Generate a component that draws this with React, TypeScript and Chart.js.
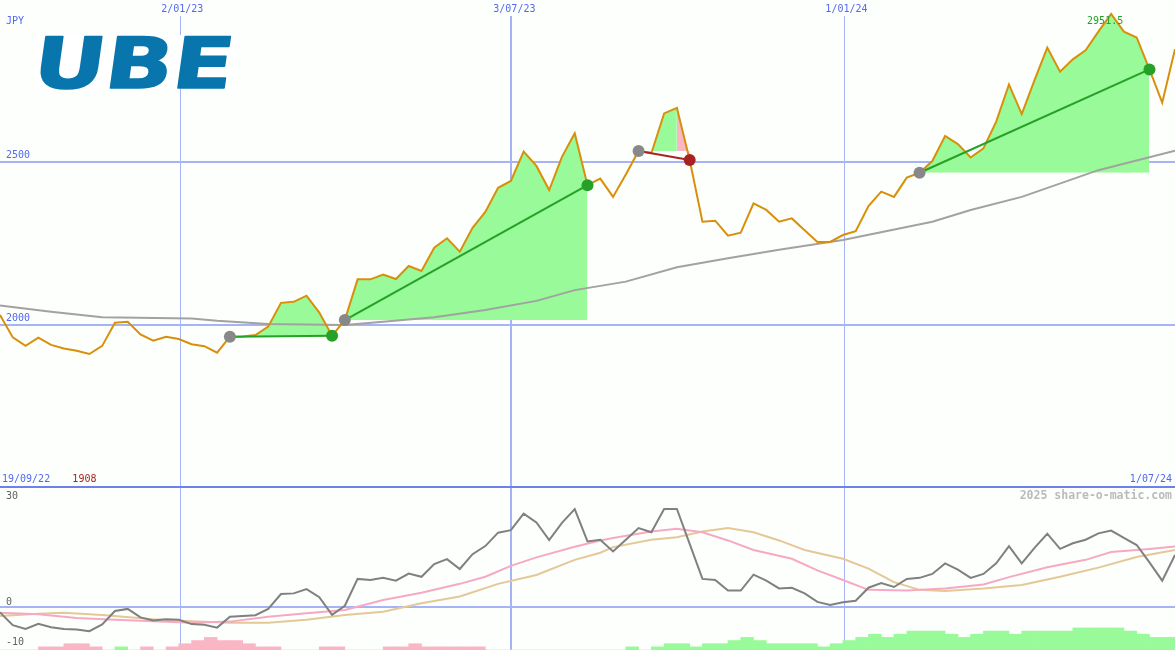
import React, { useEffect, useRef } from 'react';
import { Chart, registerables } from 'chart.js';

Chart.register(...registerables);

// ---------- data ----------
const WEEK_MIN = 0;
const WEEK_MAX = 92;
const xTickWeeks = [14, 40, 66];
const xTickLabels = ['2/01/23', '3/07/23', '1/01/24'];
const startLabel = '19/09/22';
const endLabel = '1/07/24';
const currencyLabel = 'JPY';
const priceGrid = [2500, 2000];
const panelSplitPrice = 1500;
const oscTicks = [30, 0, -10];
const logoText = 'UBE';
const creditText = '2025 share-o-matic.com';

// weekly closes (index = week from chart start)
const price = [
  2028, 1959, 1933, 1958, 1936, 1925, 1918, 1908, 1933, 2004,
  2007, 1968, 1949, 1961, 1954, 1938, 1932, 1912, 1961, 1962,
  1966, 1992, 2065, 2068, 2087, 2035, 1964, 2012, 2137, 2137,
  2152, 2138, 2178, 2163, 2234, 2263, 2222, 2295, 2344, 2418,
  2439, 2529, 2485, 2411, 2513, 2585, 2426, 2446, 2390, 2459,
  2531, 2524, 2646, 2663, 2503, 2314, 2317, 2271, 2280, 2370,
  2350, 2314, 2324, 2288, 2252, 2252, 2273, 2285, 2362, 2406,
  2390, 2449, 2464, 2500, 2577, 2552, 2511, 2539, 2621, 2735,
  2644, 2748, 2848, 2774, 2812, 2840, 2897, 2951.5, 2897, 2879,
  2781, 2679, 2843,
];

// long moving average (week, value)
const maWeeks = [0, 4, 8, 15, 17, 21, 27, 30, 34, 38, 42, 45, 49, 53, 57, 61, 66, 73, 76, 80, 86, 92];
const maValues = [2057, 2038, 2021, 2017, 2010, 2000, 1997, 2007, 2021, 2043, 2071, 2104, 2130, 2174, 2202, 2228, 2258, 2314, 2350, 2390, 2472, 2532];

// trades (week indexes)
const tradeEntry = [18, 27, 50, 72];
const tradeExit = [26, 46, 54, 90];
const tradeFadeFrom = [null, null, 53, null];

// lower panel oscillator
const osc = [
  -1.4, -5.0, -6.1, -4.6, -5.6, -6.1, -6.2, -6.7, -4.8, -1.0,
  -0.4, -2.8, -3.7, -3.3, -3.5, -4.7, -4.9, -5.7, -2.6, -2.4,
  -2.2, -0.4, 3.8, 4.0, 5.2, 2.9, -2.1, 0.5, 8.1, 7.8,
  8.4, 7.6, 9.6, 8.7, 12.3, 13.7, 10.9, 15.1, 17.4, 21.2,
  21.9, 26.6, 24.1, 19.1, 24.0, 27.9, 18.7, 19.2, 15.9, 19.2,
  22.5, 21.3, 27.9, 27.9, 18.0, 8.1, 7.8, 4.8, 4.8, 9.3,
  7.6, 5.4, 5.6, 4.0, 1.6, 0.7, 1.5, 1.9, 5.6, 6.9,
  5.8, 8.1, 8.4, 9.5, 12.5, 10.7, 8.4, 9.5, 12.5, 17.4,
  12.5, 16.9, 20.9, 16.6, 18.2, 19.2, 21.0, 21.8, 19.7, 17.7,
  12.8, 7.6, 14.9,
];
const fastWeeks = [0, 3, 6, 9, 12, 15, 18, 21, 24, 27, 30, 33, 36, 38, 40, 42, 45, 47, 48, 51, 53, 55, 57, 59, 62, 64, 66, 68, 71, 74, 77, 79, 82, 85, 87, 90, 92];
const fastValues = [-1.5, -1.9, -3.0, -3.5, -3.9, -4.3, -4.0, -2.6, -1.6, -0.7, 2.1, 4.2, 6.7, 8.7, 11.8, 14.2, 17.2, 19.0, 19.7, 21.5, 22.3, 21.3, 19.0, 16.3, 13.8, 10.5, 7.8, 5.0, 4.8, 5.4, 6.5, 8.6, 11.4, 13.5, 15.7, 16.6, 17.3];
const slowWeeks = [0, 3, 5, 8, 12, 15, 18, 21, 24, 27, 30, 33, 36, 39, 42, 45, 47, 48, 51, 53, 55, 57, 59, 61, 63, 66, 68, 70, 72, 74, 77, 80, 83, 86, 89, 92];
const slowValues = [-2.4, -1.8, -1.5, -2.1, -3.3, -3.9, -4.3, -4.3, -3.5, -2.1, -1.2, 1.2, 3.1, 6.7, 9.2, 13.5, 15.5, 17.1, 19.2, 19.9, 21.5, 22.5, 21.3, 19.0, 16.3, 13.8, 11.0, 7.2, 5.0, 4.7, 5.4, 6.4, 8.7, 11.3, 14.3, 16.3];

// bottom histogram (negative = pink, positive = green), one per week
const signal = [
  0, 0, 0, -1, -1, -2, -2, -1, 0, 1,
  0, -1, 0, -1, -2, -3, -4, -3, -3, -2,
  -1, -1, 0, 0, 0, -1, -1, 0, 0, 0,
  -1, -1, -2, -1, -1, -1, -1, -1, 0, 0,
  0, 0, 0, 0, 0, 0, 0, 0, 0, 1,
  0, 1, 2, 2, 1, 2, 2, 3, 4, 3,
  2, 2, 2, 2, 1, 2, 3, 4, 5, 4,
  5, 6, 6, 6, 5, 4, 5, 6, 6, 5,
  6, 6, 6, 6, 7, 7, 7, 7, 6, 5,
  4, 4,
];

// ---------- styles ----------
const W = 1175;
const H = 650;
const BG = '#fcfffc';
const BLUE_TEXT = '#5468f0';
const GRID = '#a6b4f6';
const SEP = '#6e80ea';
const PRICE_COLOR = '#d98f0a';
const MA_COLOR = '#a2a2a2';
const GREEN_FILL = '#98fa98';
const PINK_FILL = '#fbb6c6';
const WIN = '#26a026';
const LOSS = '#a82222';
const ENTRY = '#888888';
const OSC_COLOR = '#808080';
const FAST_COLOR = '#f7a9c4';
const SLOW_COLOR = '#e4c898';
const LOGO_COLOR = '#0876ad';
const MONO = "'DejaVu Sans Mono'";

export default function App() {
  const ref = useRef<HTMLCanvasElement>(null);

  useEffect(() => {
    const canvas = ref.current;
    if (!canvas) return;

    const pairs = (xs: number[], ys: number[]) => xs.map((x, i) => ({ x, y: ys[i] }));
    const datasets: any[] = [];

    // trade fills
    const clear = 'rgba(0,0,0,0)';
    tradeEntry.forEach((e, k) => {
      const ex = tradeExit[k];
      const lvl = price[e];
      const mk = (a: number, b: number, above: string, below: string) => {
        datasets.push({
          type: 'line',
          data: price.slice(a, b + 1).map((y, i) => ({ x: a + i, y })),
          xAxisID: 'x',
          yAxisID: 'yp',
          borderWidth: 0,
          borderColor: clear,
          pointRadius: 0,
          fill: { target: { value: lvl }, above, below },
          order: 10,
        });
      };
      const split = tradeFadeFrom[k];
      if (split == null) mk(e, ex, GREEN_FILL, clear);
      else {
        mk(e, split, GREEN_FILL, PINK_FILL);
        mk(split, ex, PINK_FILL, PINK_FILL);
      }
    });

    // long MA
    datasets.push({
      type: 'line', data: pairs(maWeeks, maValues), xAxisID: 'x', yAxisID: 'yp',
      borderColor: MA_COLOR, borderWidth: 2, pointRadius: 0, fill: false, order: 8,
    });
    // price
    datasets.push({
      type: 'line', data: price.map((y, i) => ({ x: i, y })), xAxisID: 'x', yAxisID: 'yp',
      borderColor: PRICE_COLOR, borderWidth: 2, pointRadius: 0, fill: false, order: 6,
    });
    // trade lines
    tradeEntry.forEach((e, k) => {
      const ex = tradeExit[k];
      const win = price[ex] >= price[e];
      datasets.push({
        type: 'line', data: [{ x: e, y: price[e] }, { x: ex, y: price[ex] }], xAxisID: 'x', yAxisID: 'yp',
        borderColor: win ? WIN : LOSS, borderWidth: 2, pointRadius: 0, fill: false, order: 4,
      });
    });
    // markers
    const markerPts: any[] = [];
    const markerCols: string[] = [];
    tradeEntry.forEach((e, k) => {
      const ex = tradeExit[k];
      markerPts.push({ x: e, y: price[e] });
      markerCols.push(ENTRY);
      markerPts.push({ x: ex, y: price[ex] });
      markerCols.push(price[ex] >= price[e] ? WIN : LOSS);
    });
    datasets.push({
      type: 'scatter', data: markerPts, xAxisID: 'x', yAxisID: 'yp',
      pointRadius: 6, pointBackgroundColor: markerCols, pointBorderWidth: 0,
      pointBorderColor: markerCols, order: 2,
    });

    // lower panel
    datasets.push({
      type: 'bar', data: signal.map((v, i) => ({ x: i + 0.5, y: Math.abs(v) })), xAxisID: 'x', yAxisID: 'yh',
      backgroundColor: signal.map((v) => (v < 0 ? PINK_FILL : GREEN_FILL)),
      borderWidth: 0, barPercentage: 1, categoryPercentage: 1, order: 12,
    });
    datasets.push({
      type: 'line', data: pairs(slowWeeks, slowValues), xAxisID: 'x', yAxisID: 'yo',
      borderColor: SLOW_COLOR, borderWidth: 2, pointRadius: 0, fill: false, order: 9,
    });
    datasets.push({
      type: 'line', data: pairs(fastWeeks, fastValues), xAxisID: 'x', yAxisID: 'yo',
      borderColor: FAST_COLOR, borderWidth: 2, pointRadius: 0, fill: false, order: 8,
    });
    datasets.push({
      type: 'line', data: osc.map((y, i) => ({ x: i, y })), xAxisID: 'x', yAxisID: 'yo',
      borderColor: OSC_COLOR, borderWidth: 2, pointRadius: 0, fill: false, order: 5,
    });

    const decor = {
      id: 'decor',
      beforeDraw(chart: any) {
        const { ctx } = chart;
        ctx.save();
        ctx.fillStyle = BG;
        ctx.fillRect(0, 0, chart.width, chart.height);
        ctx.restore();
      },
      beforeDatasetsDraw(chart: any) {
        const { ctx, scales } = chart;
        const x = scales.x, yp = scales.yp, yo = scales.yo;
        ctx.save();
        ctx.fillStyle = GRID;
        priceGrid.forEach((v) => {
          const y = Math.round(yp.getPixelForValue(v));
          ctx.fillRect(0, y, W, 2);
        });
        const y0 = Math.round(yo.getPixelForValue(0));
        ctx.fillRect(0, y0 - 1, W, 2);
        xTickWeeks.forEach((w, i) => {
          const px = Math.round(x.getPixelForValue(w));
          if (i === 1) ctx.fillRect(px - 1, 16, 2, H - 16);
          else ctx.fillRect(px + 1, 16, 1, H - 16);
        });
        const ys = Math.round(yp.getPixelForValue(panelSplitPrice));
        ctx.fillStyle = SEP;
        ctx.fillRect(0, ys - 1, W, 2);

        // logo
        ctx.fillStyle = '#ffffff';
        ctx.fillRect(36, 35, 199, 54);
        ctx.font = "bold 72px 'DejaVu Sans'";
        ctx.textBaseline = 'alphabetic';
        ctx.textAlign = 'left';
        const m = ctx.measureText(logoText);
        const ink = m.actualBoundingBoxLeft + m.actualBoundingBoxRight;
        const sx = 186 / ink;
        const sy = 51 / m.actualBoundingBoxAscent;
        ctx.save();
        ctx.translate(38, 87.5);
        ctx.transform(1, 0, -0.14, 1, 0, 0);
        ctx.scale(sx, sy);
        ctx.fillStyle = LOGO_COLOR;
        ctx.strokeStyle = LOGO_COLOR;
        ctx.lineWidth = 1.5;
        ctx.lineJoin = 'round';
        ctx.fillText(logoText, m.actualBoundingBoxLeft, 0);
        ctx.strokeText(logoText, m.actualBoundingBoxLeft, 0);
        ctx.restore();
        ctx.restore();
      },
      afterDatasetsDraw(chart: any) {
        const { ctx, scales } = chart;
        const x = scales.x, yp = scales.yp, yo = scales.yo;
        ctx.save();
        ctx.font = `10px ${MONO}`;
        ctx.textBaseline = 'middle';
        ctx.fillStyle = BLUE_TEXT;
        ctx.textAlign = 'center';
        xTickWeeks.forEach((w, i) => {
          ctx.fillText(xTickLabels[i], x.getPixelForValue(w) + 3.5, 9);
        });
        ctx.textAlign = 'left';
        ctx.fillText(currencyLabel, 6, 21.5);
        priceGrid.forEach((v) => ctx.fillText(String(v), 6, yp.getPixelForValue(v) - 5.5));
        ctx.fillText(startLabel, 2, 479);
        ctx.textAlign = 'right';
        ctx.fillText(endLabel, 1172, 479);

        // min / max labels
        let minI = 0, maxI = 0;
        price.forEach((v, i) => {
          if (v < price[minI]) minI = i;
          if (v > price[maxI]) maxI = i;
        });
        ctx.textAlign = 'center';
        ctx.fillStyle = LOSS;
        ctx.fillText(String(price[minI]), x.getPixelForValue(minI) - 5, 479);
        ctx.fillStyle = WIN;
        ctx.fillText(String(price[maxI]), x.getPixelForValue(maxI) - 6, 21);

        // oscillator labels
        ctx.textAlign = 'left';
        ctx.fillStyle = '#606060';
        oscTicks.forEach((v) => {
          let py = yo.getPixelForValue(v) - 5;
          if (py > H - 20) py = H - 8;
          ctx.fillText(String(v), 6, py);
        });

        ctx.font = `bold 11.5px ${MONO}`;
        ctx.fillStyle = '#bbbbbb';
        ctx.textAlign = 'right';
        ctx.fillText(creditText, 1172, 496);
        ctx.restore();
      },
    };

    const chart = new Chart(canvas, {
      type: 'line',
      data: { datasets },
      options: {
        responsive: false,
        animation: false,
        devicePixelRatio: 1,
        events: [],
        layout: { padding: 0, autoPadding: false },
        plugins: { legend: { display: false }, tooltip: { enabled: false } },
        elements: { line: { tension: 0 } },
        scales: {
          x: { type: 'linear', min: WEEK_MIN, max: WEEK_MAX, display: false, offset: false },
          yp: { type: 'linear', min: 1000, max: 2994, display: false },
          yo: { type: 'linear', min: -12.04, max: 172.1, display: false },
          yh: { type: 'linear', min: 0, max: 206.3, display: false },
        },
      } as any,
      plugins: [decor as any],
    } as any);

    return () => chart.destroy();
  }, []);

  return (
    <div style={{ position: 'fixed', left: 0, top: 0, width: W, height: H, background: BG }}>
      <canvas ref={ref} width={W} height={H} style={{ display: 'block', width: W, height: H }} />
    </div>
  );
}
